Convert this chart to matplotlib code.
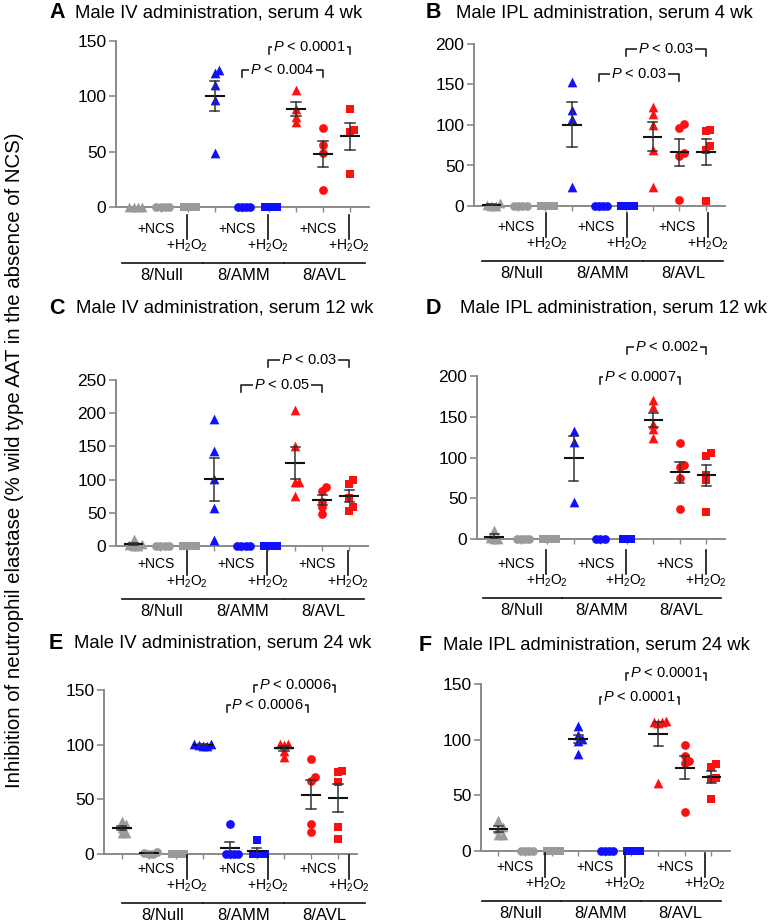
import matplotlib
matplotlib.use('Agg')
import matplotlib.pyplot as plt
from matplotlib.lines import Line2D
import numpy as np

plt.rcParams['font.family'] = ['Liberation Sans', 'DejaVu Sans']
plt.rcParams['mathtext.fontset'] = 'custom'
plt.rcParams['mathtext.rm'] = 'Liberation Sans'
plt.rcParams['mathtext.it'] = 'Liberation Sans:italic'

## order of groups in every panel:
## 8/Null, +NCS, +H2O2, 8/AMM, +NCS, +H2O2, 8/AVL, +NCS, +H2O2
group_names = ['8/Null', '8/AMM', '8/AVL']

titles = ['Male IV administration, serum 4 wk',
          'Male IPL administration, serum 4 wk',
          'Male IV administration, serum 12 wk',
          'Male IPL administration, serum 12 wk',
          'Male IV administration, serum 24 wk',
          'Male IPL administration, serum 24 wk']
letters = ['A', 'B', 'C', 'D', 'E', 'F']

vals_a = [[0, 0, 0, 0], [0, 0, 0, 0], [0, 0, 0, 0],
          [124, 121, 110, 97, 49], [0, 0, 0, 0], [0, 0, 0, 0],
          [106, 89, 81, 77], [71, 56, 49, 15], [88.5, 69.5, 68, 30]]
vals_b = [[4, 1, 0, 0], [0, 0, 0, 0], [0, 0, 0, 0],
          [153, 118, 107, 24], [0, 0, 0, 0], [0, 0, 0, 0],
          [122, 114, 100, 69, 24], [101, 96, 65, 62, 8], [94, 92, 74, 69, 6]]
vals_c = [[10, 3, 2, 0, 0], [0, 0, 0, 0], [0, 0, 0, 0],
          [191, 143, 101, 57, 9], [0, 0, 0, 0], [0, 0, 0, 0],
          [205, 150, 97, 97, 76], [89, 83, 67, 59, 48], [99, 94, 73, 58, 53]]
vals_d = [[11, 1, 0, 0], [0, 0, 0, 0], [0, 0, 0, 0],
          [133, 119, 45], [0, 0, 0], [0, 0, 0],
          [170, 162, 141, 135, 124], [117.5, 91, 88, 74.6, 37], [105, 102, 79, 73, 33]]
vals_e = [[30, 27, 24, 19, 19], [2, 1, 0, 0], [0, 0, 0, 0],
          [101, 101, 100, 99, 99], [27, 0, 0, 0, 0], [13, 0, 0, 0, 0],
          [100.5, 100.5, 100, 94, 89], [87, 70, 67, 27, 20], [76, 75, 66, 25, 14]]
vals_f = [[28, 22, 20, 14, 14], [0, 0, 0, 0], [0, 0, 0, 0],
          [112, 104.5, 100.5, 98.5, 87.5], [0, 0, 0, 0], [0, 0, 0, 0],
          [117, 116, 116, 115, 61], [95, 85, 81, 79, 35], [78.5, 75.5, 66, 65, 47]]
all_vals = [vals_a, vals_b, vals_c, vals_d, vals_e, vals_f]

y_max = [150, 200, 250, 200, 150, 150]
y_step = [50, 50, 50, 50, 50, 50]

## (from group, to group, height, text)
brackets = [[(4, 7, 124, '0.004'), (5, 8, 145, '0.0001')],
            [(4, 7, 163, '0.03'), (5, 8, 194, '0.03')],
            [(4, 7, 242, '0.05'), (5, 8, 280, '0.03')],
            [(4, 7, 199, '0.0007'), (5, 8, 236, '0.002')],
            [(4, 7, 136, '0.0006'), (5, 8, 155, '0.0006')],
            [(4, 7, 138, '0.0001'), (5, 8, 160, '0.0001')]]

# layout in pixels: left, top, right, bottom of the plotting area
W, H = 776, 922
rects = [(116, 41, 369, 207), (474, 44, 725, 206),
         (116, 380, 368, 546), (477, 376, 725, 539),
         (104, 690, 357, 854), (481, 684, 730, 851)]
title_pos = [(49, 75, 13), (426, 456, 13), (49, 76, 308),
             (426, 460, 308), (49, 74, 643), (419, 443, 645)]
label_shift = [0, 0.08, 0, 0, 0.45, -0.2]   # x shift of the label block
label_dy = [0, -1, -3.5, 3, -7.5, -6.5]      # y shift of the label block
bracket_shift = [0, 0, 0, 0, -0.1, -0.2]
XL = (-0.65, 8.7)

colors = ['#9a9a9a'] * 3 + ['#1010ff'] * 3 + ['#ff1010'] * 3
markers = ['^', 'o', 's'] * 3
msizes = {'^': 7.0, 'o': 6.3, 's': 5.9}

fig = plt.figure(figsize=(W / 100, H / 100), dpi=100)


def fx(px):
    return px / W


def fy(py):
    return 1 - py / H


def swarm(v, ppu_y, step=4.2):
    order = np.argsort(v)
    placed = []
    offs = np.zeros(len(v))
    for i in order:
        y = v[i] * ppu_y
        k = 0
        found = None
        while found is None:
            cands = [0.0] if k == 0 else [k * step, -k * step]
            for c in cands:
                if all(np.hypot(c - px, y - py) >= step for px, py in placed):
                    found = c
                    break
            k += 1
        offs[i] = found
        placed.append((found, y))
    return offs


for p in range(6):
    l, t, r, b = rects[p]
    ax = fig.add_axes([fx(l), fy(b), (r - l) / W, (b - t) / H])
    ax.set_xlim(*XL)
    ax.set_ylim(0, y_max[p])
    ppu_x = (r - l) / (XL[1] - XL[0])
    ppu_y = (b - t) / y_max[p]

    for g, v in enumerate(all_vals[p]):
        v = np.array(v, dtype=float)
        offs = swarm(v, ppu_y) / ppu_x
        ms = msizes[markers[g]]
        ax.scatter(g + offs, v, marker=markers[g], s=ms ** 2, color=colors[g],
                   linewidths=0, zorder=3, clip_on=False)
        m = v.mean()
        se = v.std(ddof=1) / np.sqrt(len(v))
        if m == 0 and se == 0:
            continue
        ax.plot([g - 0.33, g + 0.33], [m, m], color='#111111', lw=1.5, zorder=4)
        ax.plot([g, g], [m - se, m + se], color='#333333', lw=1.1, zorder=4)
        for yy in (m - se, m + se):
            ax.plot([g - 0.17, g + 0.17], [yy, yy], color='#333333', lw=1.1, zorder=4)

    for s in ['top', 'right']:
        ax.spines[s].set_visible(False)
    for s in ['left', 'bottom']:
        ax.spines[s].set_color('#8a8a8a')
        ax.spines[s].set_linewidth(1.4)
    ax.set_yticks(np.arange(0, y_max[p] + 1, y_step[p]))
    ax.set_xticks(range(9))
    ax.set_xticklabels([])
    ax.tick_params(axis='y', length=5, width=1.2, color='#8a8a8a', labelsize=12.5, pad=2)
    ax.tick_params(axis='x', length=3.5, width=1.0, color='#8a8a8a')
    ax.patch.set_alpha(0)

    # significance brackets
    tick_h = 7 / ppu_y
    for g1, g2, yb, txt in brackets[p]:
        x1 = g1 + bracket_shift[p]
        x2 = g2 + bracket_shift[p]
        ax.plot([x1, x1, x2, x2], [yb - tick_h, yb, yb, yb - tick_h],
                color='#222222', lw=1.2, clip_on=False, zorder=2)
        ax.text((x1 + x2) / 2, yb, r'$\it{P}$ < ' + txt, ha='center', va='center',
                fontsize=10.5, zorder=5,
                bbox=dict(fc='white', ec='none', pad=0.6))

    # treatment labels and groups under the axis
    def xp(x):
        return l + (x + label_shift[p] - XL[0]) * ppu_x

    d = label_dy[p]
    for k in range(3):
        base = 3 * k
        fig.text(fx(xp(base + 0.82)), fy(b + 22 + d), '+NCS', ha='center', va='center',
                 fontsize=10)
        fig.text(fx(xp(base + 1.97)), fy(b + 39 + d), '+H$_2$O$_2$', ha='center',
                 va='center', fontsize=10)
        fig.add_artist(Line2D([fx(xp(base + 1.97))] * 2, [fy(b + 8 + d), fy(b + 32 + d)],
                              color='#111111', lw=1.2))
        fig.add_artist(Line2D([fx(xp(base - 0.43)), fx(xp(base + 2.55))],
                              [fy(b + 56 + d)] * 2, color='#111111', lw=1.2))
        fig.text(fx(xp(base + 1.05)), fy(b + 68.5 + d), group_names[k], ha='center',
                 va='center', fontsize=12)

    lx, tx, ty = title_pos[p]
    fig.text(fx(lx), fy(ty), letters[p], fontsize=15.5, weight='heavy', va='center')
    fig.text(fx(tx), fy(ty), titles[p], fontsize=13.3, va='center')

fig.text(fx(15), fy(460),
         'Inhibition of neutrophil elastase (% wild type AAT in the absence of NCS)',
         rotation=90, ha='center', va='center', fontsize=14.7)

fig.savefig('out.png', dpi=100)
